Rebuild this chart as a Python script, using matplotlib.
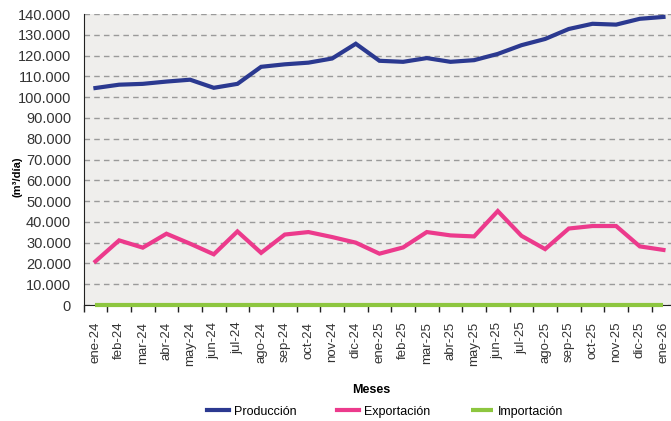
import numpy as np
import matplotlib.pyplot as plt
from matplotlib.ticker import FuncFormatter, FixedLocator

meses = ["ene-24", "feb-24", "mar-24", "abr-24", "may-24", "jun-24", "jul-24",
         "ago-24", "sep-24", "oct-24", "nov-24", "dic-24", "ene-25", "feb-25",
         "mar-25", "abr-25", "may-25", "jun-25", "jul-25", "ago-25", "sep-25",
         "oct-25", "nov-25", "dic-25", "ene-26"]
produccion = [104400, 106000, 106400, 107500, 108400, 104500, 106400, 114600,
              115800, 116600, 118600, 125700, 117500, 117000, 118800, 117000,
              117800, 120800, 125000, 128000, 132800, 135300, 134900, 137700, 138600]
exportacion = [21000, 31100, 27600, 34300, 29500, 24400, 35400, 25100, 33900,
               35100, 32700, 30000, 24700, 27700, 35100, 33500, 33000, 45200,
               33300, 26900, 36800, 38000, 38000, 28200, 26500]
importacion = [0] * len(meses)

plt.rcParams['font.family'] = ['Liberation Sans', 'DejaVu Sans']

fig = plt.figure(figsize=(6.71, 4.21), dpi=100)
ax = fig.add_axes([0.1246, 0.2755, 0.8818, 0.6912])
ax.set_facecolor('#EFEEEC')

x = np.arange(len(meses))
ax.plot(x, produccion, color='#2B3990', lw=3, label='Producción', solid_joinstyle='miter', zorder=3)
ax.plot(x, exportacion, color='#EC3A8C', lw=3, label='Exportación', solid_joinstyle='miter', zorder=3)
ax.plot(x, importacion, color='#8DC63F', lw=3, label='Importación', zorder=5, clip_on=False,
        solid_capstyle='butt')

ax.set_xlim(-0.5, len(meses) - 0.5)
ax.set_ylim(0, 140000)
ax.set_yticks(np.arange(0, 140001, 10000))
ax.yaxis.set_major_formatter(FuncFormatter(lambda v, p: f"{int(v):,}".replace(",", ".")))
ax.yaxis.grid(True, color='#9A9A9A', linestyle=(0, (4, 3)), lw=1)
ax.set_axisbelow(True)

ax.set_xticks(x)
ax.set_xticklabels(meses, rotation=90)
ax.xaxis.set_minor_locator(FixedLocator(np.arange(-0.5, len(meses), 1.0)))
ax.tick_params(axis='x', which='major', length=0, pad=12, labelsize=9.5, labelcolor='#333333')
ax.tick_params(axis='x', which='minor', length=5, width=1, color='#222222')
ax.tick_params(axis='y', length=0, pad=9, labelsize=10.5, labelcolor='#333333')

for s in ['top', 'right']:
    ax.spines[s].set_visible(False)
ax.spines['left'].set_color('#222222')
ax.spines['bottom'].set_color('#222222')

ax.set_ylabel('(m³/día)', fontsize=8, fontweight='bold')
ax.set_xlabel('Meses', fontsize=9, fontweight='bold')
ax.xaxis.set_label_coords((371.7 - 83.6) / 591.7, -0.27)
ax.yaxis.set_label_coords(-0.104, 0.44)

fig.legend(loc='center', bbox_to_anchor=(385 / 671, 0.022), ncol=3, frameon=False,
           fontsize=9, handlelength=1.8, handletextpad=0.4, columnspacing=3.2)

fig.savefig('out.png', dpi=100)
